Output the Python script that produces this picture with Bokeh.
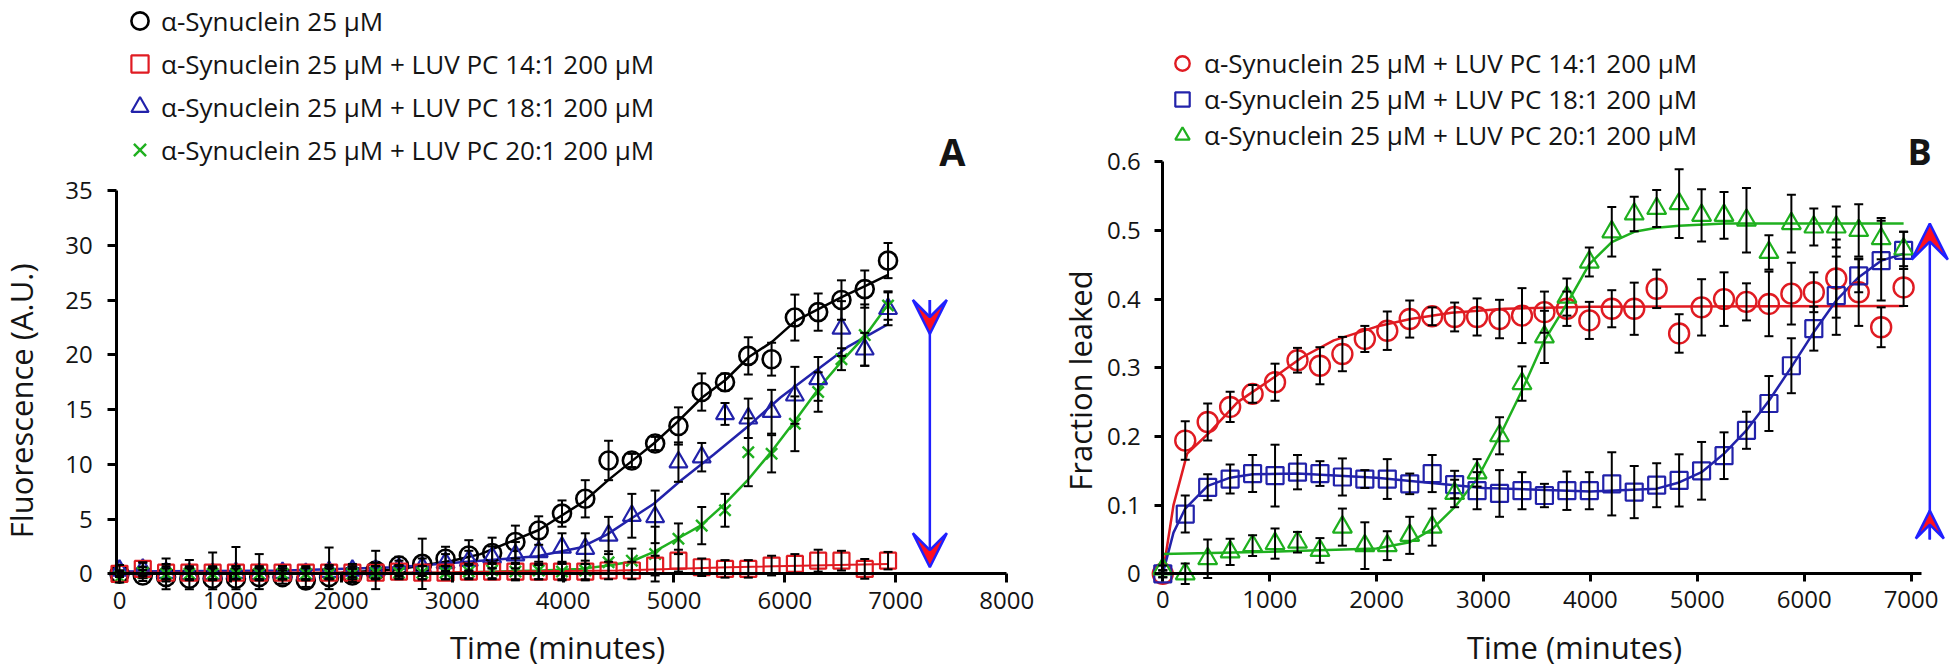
import numpy as np
from bokeh.plotting import figure
from bokeh.layouts import row
from bokeh.models import (ColumnDataSource, Whisker, TeeHead, Arrow, VeeHead, Legend,
                          LegendItem, Label, FixedTicker, Range1d)
from bokeh.embed import file_html
from bokeh.resources import INLINE

# ---------------- data ----------------
time_min = [0, 210, 420, 630, 840, 1050, 1260, 1470, 1680, 1890, 2100, 2310, 2520, 2730,
            2940, 3150, 3360, 3570, 3780, 3990, 4200, 4410, 4620, 4830, 5040, 5250, 5460,
            5670, 5880, 6090, 6300, 6510, 6720, 6930]

# Panel A: fluorescence (A.U.)
a_syn = [0, -0.15, -0.3, -0.45, -0.45, -0.45, -0.3, -0.3, -0.6, -0.3, -0.15, 0.3, 0.76, 0.91,
         1.37, 1.67, 1.9, 2.9, 3.95, 5.5, 6.85, 10.35, 10.35, 11.9, 13.5, 16.6, 17.5, 19.9,
         19.6, 23.4, 23.9, 25.0, 26.0, 28.6]
a_syn_err = [0.3, 0.5, 1.7, 1.7, 2.4, 2.9, 2.1, 0.6, 0.6, 2.7, 0.6, 1.8, 0.8, 2.3, 1.1, 1.4,
             1.4, 1.5, 1.3, 1.2, 1.7, 1.8, 0.6, 0.6, 1.7, 1.7, 0.8, 1.7, 1.5, 2.1, 1.7, 1.8,
             1.7, 1.6]
a_pc14 = [0, 0.45, 0.1, 0.1, 0.1, 0.1, 0.1, 0.1, 0.1, 0.1, 0.1, 0.1, 0.2, 0.1, 0.1, 0.2, 0.2,
          0.2, 0.2, 0.2, 0.2, 0.3, 0.3, 0.75, 1.2, 0.6, 0.45, 0.45, 0.75, 0.9, 1.2, 1.2, 0.45,
          1.2]
a_pc14_err = [0.3, 0.6, 0.6, 0.6, 0.6, 0.6, 0.6, 0.6, 0.6, 0.6, 0.6, 0.6, 0.6, 0.6, 0.6, 0.6,
              0.7, 0.7, 0.7, 0.7, 0.7, 0.8, 0.8, 0.9, 1.0, 0.8, 0.8, 0.8, 0.9, 0.9, 1.0, 0.9,
              0.9, 0.8]
a_pc18 = [0.3, 0.4, 0.1, 0, 0, 0.1, 0, 0.1, 0, 0.2, 0.3, 0.3, 0.5, 0.6, 1.0, 1.2, 1.5, 1.7,
          2.0, 2.4, 2.3, 3.5, 5.3, 5.2, 10.2, 10.65, 14.6, 14.2, 14.8, 16.3, 17.8, 22.4, 20.5,
          24.2]
a_pc18_err = [0.5, 0.6, 0.8, 0.6, 0.6, 0.6, 0.6, 0.6, 0.6, 0.6, 0.6, 0.7, 0.7, 0.8, 0.8, 0.9,
              1.0, 1.2, 1.2, 1.3, 1.4, 1.7, 2.0, 2.4, 1.8, 1.3, 1.0, 1.8, 2.0, 2.6, 2.0, 2.5,
              1.5, 1.5]
a_pc20 = [-0.3, 0.1, 0, 0, 0, 0, 0, 0, 0, 0, 0, 0.1, 0.1, 0.1, 0.1, 0.2, 0.3, 0.2, 0.3, 0.2,
          0.3, 1.06, 1.2, 1.8, 3.2, 4.4, 5.8, 11.1, 10.96, 13.7, 16.6, 19.6, 21.8, 24.5]
a_pc20_err = [0.5, 0.5, 0.5, 0.5, 0.5, 0.5, 0.5, 0.5, 0.5, 0.5, 0.5, 0.6, 0.6, 0.6, 0.6, 0.7,
              0.7, 0.8, 0.8, 0.8, 0.9, 1.0, 1.1, 2.5, 1.4, 1.7, 1.5, 3.1, 1.7, 2.5, 1.8, 1.0,
              2.8, 1.3]

# Panel A fitted curves
a_syn_fit_t = [0, 1500, 2000, 2500, 3000, 3255, 3781, 4187, 4412, 4608, 4818, 5029, 5254,
               5464, 5675, 5886, 6096, 6306, 6516, 6727, 6930]
a_syn_fit_v = [0, 0, 0.1, 0.4, 1.2, 1.8, 4.0, 6.6, 8.6, 10.2, 11.9, 13.85, 16.1, 17.7, 19.8,
               21.2, 23.1, 24.2, 25.3, 26.3, 27.3]
a_pc18_fit_t = [0, 1500, 2500, 3255, 3766, 4157, 4398, 4608, 4818, 5059, 5359, 5660, 5960,
                6261, 6562, 6930]
a_pc18_fit_v = [0.2, 0.3, 0.6, 1.2, 1.6, 2.4, 3.6, 5.0, 6.4, 8.5, 10.9, 13.4, 16.1, 18.4,
                20.7, 22.8]
a_pc20_fit_t = [0, 2000, 3000, 3800, 4160, 4410, 4610, 4820, 5030, 5240, 5460, 5660, 5890,
                6100, 6310, 6520, 6730, 6930]
a_pc20_fit_v = [0, 0, 0.1, 0.3, 0.45, 0.76, 1.1, 2.0, 3.2, 4.4, 6.4, 8.5, 11.3, 14.1, 17.0,
                19.5, 21.8, 24.6]
a_pc14_fit_t = [0, 3000, 4500, 5500, 6930]
a_pc14_fit_v = [0.1, 0.15, 0.3, 0.6, 0.9]

# Panel B: fraction leaked
b_pc14 = [0, 0.194, 0.221, 0.243, 0.262, 0.279, 0.311, 0.303, 0.320, 0.342, 0.354, 0.371,
          0.375, 0.374, 0.374, 0.371, 0.376, 0.381, 0.386, 0.369, 0.386, 0.386, 0.415, 0.350,
          0.388, 0.400, 0.396, 0.393, 0.408, 0.410, 0.430, 0.410, 0.359, 0.417]
b_pc14_err = [0.005, 0.028, 0.027, 0.022, 0.013, 0.027, 0.018, 0.027, 0.025, 0.019, 0.028,
              0.027, 0.013, 0.021, 0.027, 0.028, 0.04, 0.03, 0.025, 0.027, 0.027, 0.038,
              0.028, 0.028, 0.041, 0.039, 0.027, 0.047, 0.045, 0.029, 0.057, 0.049, 0.029,
              0.027]
b_pc18 = [0, 0.087, 0.126, 0.138, 0.146, 0.143, 0.148, 0.146, 0.141, 0.138, 0.138, 0.131,
          0.146, 0.130, 0.121, 0.117, 0.121, 0.114, 0.121, 0.121, 0.131, 0.119, 0.129, 0.136,
          0.150, 0.172, 0.209, 0.248, 0.303, 0.357, 0.405, 0.434, 0.456, 0.471]
b_pc18_err = [0.005, 0.027, 0.019, 0.021, 0.027, 0.045, 0.025, 0.018, 0.027, 0.013, 0.029,
              0.015, 0.027, 0.02, 0.027, 0.034, 0.027, 0.017, 0.028, 0.027, 0.046, 0.038,
              0.032, 0.038, 0.042, 0.034, 0.027, 0.04, 0.04, 0.032, 0.057, 0.024, 0.058,
              0.027]
b_pc20 = [0.007, 0.0, 0.022, 0.032, 0.041, 0.044, 0.046, 0.034, 0.068, 0.041, 0.041, 0.056,
          0.068, 0.117, 0.147, 0.201, 0.277, 0.345, 0.403, 0.454, 0.498, 0.524, 0.532, 0.539,
          0.522, 0.522, 0.515, 0.468, 0.510, 0.505, 0.505, 0.500, 0.488, 0.473]
b_pc20_err = [0.005, 0.015, 0.028, 0.019, 0.015, 0.022, 0.015, 0.018, 0.027, 0.034, 0.021,
              0.027, 0.027, 0.02, 0.02, 0.027, 0.025, 0.038, 0.027, 0.021, 0.036, 0.025,
              0.027, 0.05, 0.038, 0.034, 0.047, 0.025, 0.042, 0.027, 0.03, 0.038, 0.03,
              0.025]

b_pc14_fit_t = [0, 100, 228, 431, 700, 1039, 1300, 1600, 2000, 2317, 2700, 3200, 4000, 6930]
b_pc14_fit_v = [0, 0.1, 0.175, 0.205, 0.25, 0.286, 0.315, 0.34, 0.36, 0.371, 0.38, 0.386,
                0.389, 0.39]
b_pc18_fit_t = [0, 100, 210, 420, 630, 840, 1260, 2000, 3000, 4000, 4620, 4830, 5040, 5250,
                5460, 5670, 5880, 6090, 6300, 6510, 6720, 6930]
b_pc18_fit_v = [0, 0.06, 0.095, 0.128, 0.14, 0.145, 0.146, 0.14, 0.125, 0.12, 0.124, 0.133,
                0.148, 0.175, 0.209, 0.252, 0.301, 0.352, 0.398, 0.432, 0.456, 0.466]
b_pc20_fit_t = [0, 1000, 2000, 2310, 2520, 2730, 2940, 3150, 3360, 3570, 3780, 3990, 4200,
                4410, 4620, 4830, 5250, 6930]
b_pc20_fit_v = [0.029, 0.032, 0.037, 0.046, 0.065, 0.097, 0.138, 0.2, 0.267, 0.34, 0.393,
                0.451, 0.483, 0.498, 0.504, 0.507, 0.51, 0.51]

# ticks
a_xticks = [0, 1000, 2000, 3000, 4000, 5000, 6000, 7000, 8000]
a_yticks = [0, 5, 10, 15, 20, 25, 30, 35]
b_xticks = [0, 1000, 2000, 3000, 4000, 5000, 6000, 7000]
b_yticks = [0, 0.1, 0.2, 0.3, 0.4, 0.5, 0.6]

# legend labels
lbl_syn = "α-Synuclein 25 μM"
lbl_14 = "α-Synuclein 25 μM + LUV PC 14:1 200 μM"
lbl_18 = "α-Synuclein 25 μM + LUV PC 18:1 200 μM"
lbl_20 = "α-Synuclein 25 μM + LUV PC 20:1 200 μM"

# annotation arrows (data units)
a_arrow_x, a_arrow_top, a_arrow_head_tip, a_arrow_low_tip = 7307, 25.0, 21.9, 0.6
b_arrow_x, b_arrow_low, b_arrow_low_tip, b_arrow_top_tip = 7175, 0.05, 0.092, 0.51

# ---------------- style ----------------
FONT = "Open Sans"
BLACK = "#000000"
RED = "#e01b22"
BLUE = "#2222aa"
GREEN = "#1fb01f"
ARROW_BLUE = "#2020ff"
ARROW_RED = "#ff1020"
TXT = "#141414"
FIG_H = 668


def style_axis(ax, ticks, tick_out, standoff):
    ax.ticker = FixedTicker(ticks=ticks)
    ax.axis_line_width = 3
    ax.axis_line_color = BLACK
    ax.major_tick_line_width = 3
    ax.major_tick_line_color = BLACK
    ax.major_tick_in = 0
    ax.major_tick_out = tick_out
    ax.minor_tick_line_color = None
    ax.major_label_text_font = FONT
    ax.major_label_text_font_size = "24px"
    ax.major_label_text_color = TXT
    ax.major_label_standoff = standoff


def whiskers(p, t, v, e, low_clip):
    lo = np.maximum(np.array(v) - np.array(e), low_clip)
    hi = np.array(v) + np.array(e)
    src = ColumnDataSource(dict(t=t, lo=lo, hi=hi))
    w = Whisker(source=src, base="t", upper="hi", lower="lo", dimension="height",
                line_color=BLACK, line_width=2,
                upper_head=TeeHead(size=9, line_color=BLACK, line_width=2),
                lower_head=TeeHead(size=9, line_color=BLACK, line_width=2),
                level="annotation")
    p.add_layout(w)


def base_fig(width, xr, yr):
    p = figure(width=width, height=FIG_H, x_range=Range1d(*xr), y_range=Range1d(*yr),
               output_backend="svg", toolbar_location=None, title=None,
               min_border_left=0, min_border_right=0,
               min_border_top=0, min_border_bottom=0)
    p.outline_line_color = None
    p.xgrid.visible = False
    p.ygrid.visible = False
    p.background_fill_color = "white"
    p.border_fill_color = "white"
    return p


def add_label(p, x, y, text, size, bold=False, angle=0.0):
    p.add_layout(Label(x=x, y=y, text=text, text_font=FONT, text_font_size=size,
                       text_font_style="bold" if bold else "normal", text_color=TXT,
                       text_align="center", text_baseline="middle", angle=angle))


# ---------------- panel A ----------------
pa = base_fig(1048, (-1073.0, 8376.9), (-8.648, 52.356))
style_axis(pa.xaxis[0], a_xticks, 9, 9)
style_axis(pa.yaxis[0], a_yticks, 9, 15)
pa.xaxis[0].fixed_location = 0
pa.xaxis[0].bounds = (-25, 8000)
pa.yaxis[0].fixed_location = -25
pa.yaxis[0].bounds = (0, 35)

pa.line(a_syn_fit_t, a_syn_fit_v, line_color=BLACK, line_width=2.5)
pa.line(a_pc18_fit_t, a_pc18_fit_v, line_color=BLUE, line_width=2.5)
pa.line(a_pc20_fit_t, a_pc20_fit_v, line_color=GREEN, line_width=2.5)
pa.line(a_pc14_fit_t, a_pc14_fit_v, line_color=RED, line_width=2.0)

ra_syn = pa.scatter(time_min, a_syn, marker="circle", size=18, fill_color=None,
                    line_color=BLACK, line_width=2.6)
ra_18 = pa.scatter(time_min, a_pc18, marker="triangle", size=18, fill_color=None,
                   line_color=BLUE, line_width=2.2)
ra_20 = pa.scatter(time_min, a_pc20, marker="x", size=16, line_color=GREEN, line_width=2.4)
ra_14 = pa.scatter(time_min, a_pc14, marker="square", size=16, fill_color=None,
                   line_color=RED, line_width=2.2)

for vals, errs in ((a_syn, a_syn_err), (a_pc18, a_pc18_err), (a_pc20, a_pc20_err),
                   (a_pc14, a_pc14_err)):
    whiskers(pa, time_min, vals, errs, -1.4)

pa.add_layout(Arrow(x_start=a_arrow_x, y_start=a_arrow_top, x_end=a_arrow_x,
                    y_end=a_arrow_low_tip, line_color=ARROW_BLUE, line_width=2.5,
                    end=VeeHead(size=34, fill_color=ARROW_RED, line_color=ARROW_BLUE,
                                line_width=2.5)))
pa.add_layout(Arrow(x_start=a_arrow_x, y_start=a_arrow_top, x_end=a_arrow_x,
                    y_end=a_arrow_head_tip, line_color=ARROW_BLUE, line_width=2.5,
                    end=VeeHead(size=34, fill_color=ARROW_RED, line_color=ARROW_BLUE,
                                line_width=2.5)))

leg_a = Legend(items=[LegendItem(label=lbl_syn, renderers=[ra_syn]),
                      LegendItem(label=lbl_14, renderers=[ra_14]),
                      LegendItem(label=lbl_18, renderers=[ra_18]),
                      LegendItem(label=lbl_20, renderers=[ra_20])],
               location=(118, 497), orientation="vertical", glyph_width=43, glyph_height=43,
               label_height=43, label_standoff=0, spacing=0, padding=0, margin=0,
               border_line_color=None, background_fill_alpha=0, label_text_font=FONT,
               label_text_font_size="26px", label_text_color=TXT)
pa.add_layout(leg_a)

add_label(pa, 3950, -6.7, "Time (minutes)", "31px")
add_label(pa, -884, 15.8, "Fluorescence (A.U.)", "31px", angle=np.pi / 2)
add_label(pa, 7511, 38.57, "A", "38px", bold=True)

# ---------------- panel B ----------------
pb = base_fig(902, (-1069.2, 7368.6), (-0.1379, 0.83487))
style_axis(pb.xaxis[0], b_xticks, 8, 9)
style_axis(pb.yaxis[0], b_yticks, 8, 14)
pb.yaxis[0].major_label_overrides = {0: "0"}
pb.xaxis[0].fixed_location = 0
pb.xaxis[0].bounds = (0, 7100)
pb.yaxis[0].fixed_location = 0
pb.yaxis[0].bounds = (0, 0.6)

pb.line(b_pc14_fit_t, b_pc14_fit_v, line_color=RED, line_width=2.5)
pb.line(b_pc18_fit_t, b_pc18_fit_v, line_color=BLUE, line_width=2.5)
pb.line(b_pc20_fit_t, b_pc20_fit_v, line_color=GREEN, line_width=2.5)

rb_14 = pb.scatter(time_min, b_pc14, marker="circle", size=20, fill_color=None,
                   line_color=RED, line_width=2.4)
rb_18 = pb.scatter(time_min, b_pc18, marker="square", size=17, fill_color=None,
                   line_color=BLUE, line_width=2.2)
rb_20 = pb.scatter(time_min, b_pc20, marker="triangle", size=19, fill_color=None,
                   line_color=GREEN, line_width=2.2)

for vals, errs in ((b_pc14, b_pc14_err), (b_pc18, b_pc18_err), (b_pc20, b_pc20_err)):
    whiskers(pb, time_min, vals, errs, -0.02)

pb.add_layout(Arrow(x_start=b_arrow_x, y_start=b_arrow_low, x_end=b_arrow_x,
                    y_end=b_arrow_top_tip, line_color=ARROW_BLUE, line_width=2.5,
                    end=VeeHead(size=36, fill_color=ARROW_RED, line_color=ARROW_BLUE,
                                line_width=2.5)))
pb.add_layout(Arrow(x_start=b_arrow_x, y_start=b_arrow_low, x_end=b_arrow_x,
                    y_end=b_arrow_low_tip, line_color=ARROW_BLUE, line_width=2.5,
                    end=VeeHead(size=28, fill_color=ARROW_RED, line_color=ARROW_BLUE,
                                line_width=2.5)))

leg_b = Legend(items=[LegendItem(label=lbl_14, renderers=[rb_14]),
                      LegendItem(label=lbl_18, renderers=[rb_18]),
                      LegendItem(label=lbl_20, renderers=[rb_20])],
               location=(116, 515), orientation="vertical", glyph_width=36, glyph_height=36,
               label_height=36, label_standoff=4, spacing=0, padding=0, margin=0,
               border_line_color=None, background_fill_alpha=0, label_text_font=FONT,
               label_text_font_size="26px", label_text_color=TXT)
pb.add_layout(leg_b)

add_label(pb, 3851, -0.107, "Time (minutes)", "31px")
add_label(pb, -770, 0.2815, "Fraction leaked", "31px", angle=np.pi / 2)
add_label(pb, 7079, 0.6157, "B", "36px", bold=True)

layout = row(pa, pb)
open("out.html", "w").write(file_html(layout, INLINE))
